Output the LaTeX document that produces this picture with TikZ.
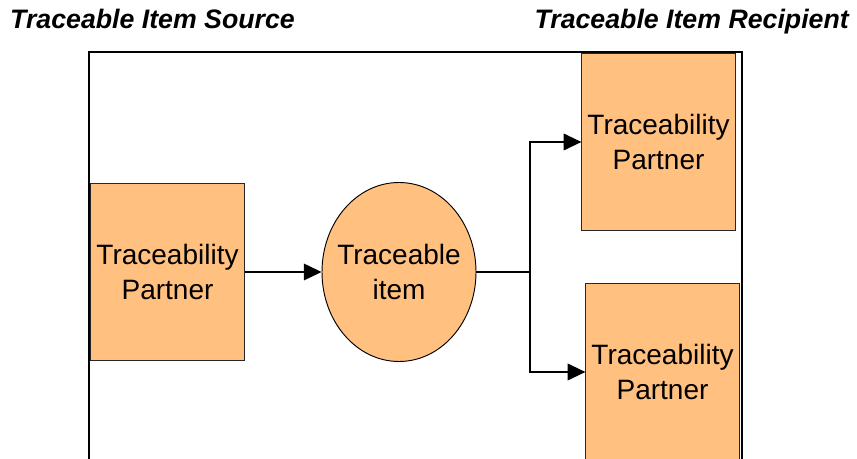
\documentclass[tikz,border=0pt]{standalone}
\usepackage{fontspec}
\setmainfont{Liberation Sans}
\usetikzlibrary{positioning}
\usetikzlibrary{arrows.meta,shapes}
\usetikzlibrary{calc}
\definecolor{partnerfill}{RGB}{255,192,128}
\tikzstyle{partner}=[rectangle,fill=partnerfill,draw=black!85,line width=0.8pt,minimum width=4.6cm,minimum height=5.3cm,inner sep=0pt,align=center,font=\fontsize{23.9}{30}\selectfont]
\tikzstyle{itemnode}=[ellipse,fill=partnerfill,draw=black,line width=0.8pt,minimum width=4.62cm,minimum height=5.37cm,inner ysep=0pt,inner xsep=-0.25cm,align=center,font=\fontsize{23.9}{30}\selectfont]
\tikzstyle{edge} = [draw,line width=1.1pt,-{Triangle[length=0.53cm,width=0.5cm]}]
\tikzstyle{frame} = [draw,line width=1.7pt]
\tikzstyle{heading} = [font=\fontsize{22.8}{27}\selectfont\bfseries\itshape,inner sep=0pt]

\begin{document}
\begin{tikzpicture}[x=0.3cm,y=0.3cm]

   \useasboundingbox (0,0) rectangle (85.7,45.9);

   \node[heading,anchor=base west] (srctitle) at (1.0,43.0) {Traceable Item Source};
   \node[heading,anchor=base east] (rcptitle) at (84.9,43.0) {Traceable Item Recipient};

   \path[frame] (8.9,0) |- (74.2,40.7) -- (74.2,0);

   \node[partner] (source) at (16.75,18.7) {Traceability\\Partner};
   \node[itemnode] (item) at (39.9,18.7) {Traceable\\item};

    \foreach \pos/\name in {{(65.85,31.7)/top}, {(66.25,8.7)/bottom}}
        \node[partner] (\name) at \pos {Traceability\\Partner};

   \coordinate (fork) at (53.0,18.7);

   \path[edge] (source) -- (item);
   \draw[line width=1.1pt] (item.east) -- (fork);

    \foreach \dest in {top, bottom}
            \path[edge] (fork) |- (\dest.west);

\end{tikzpicture}
\end{document}
